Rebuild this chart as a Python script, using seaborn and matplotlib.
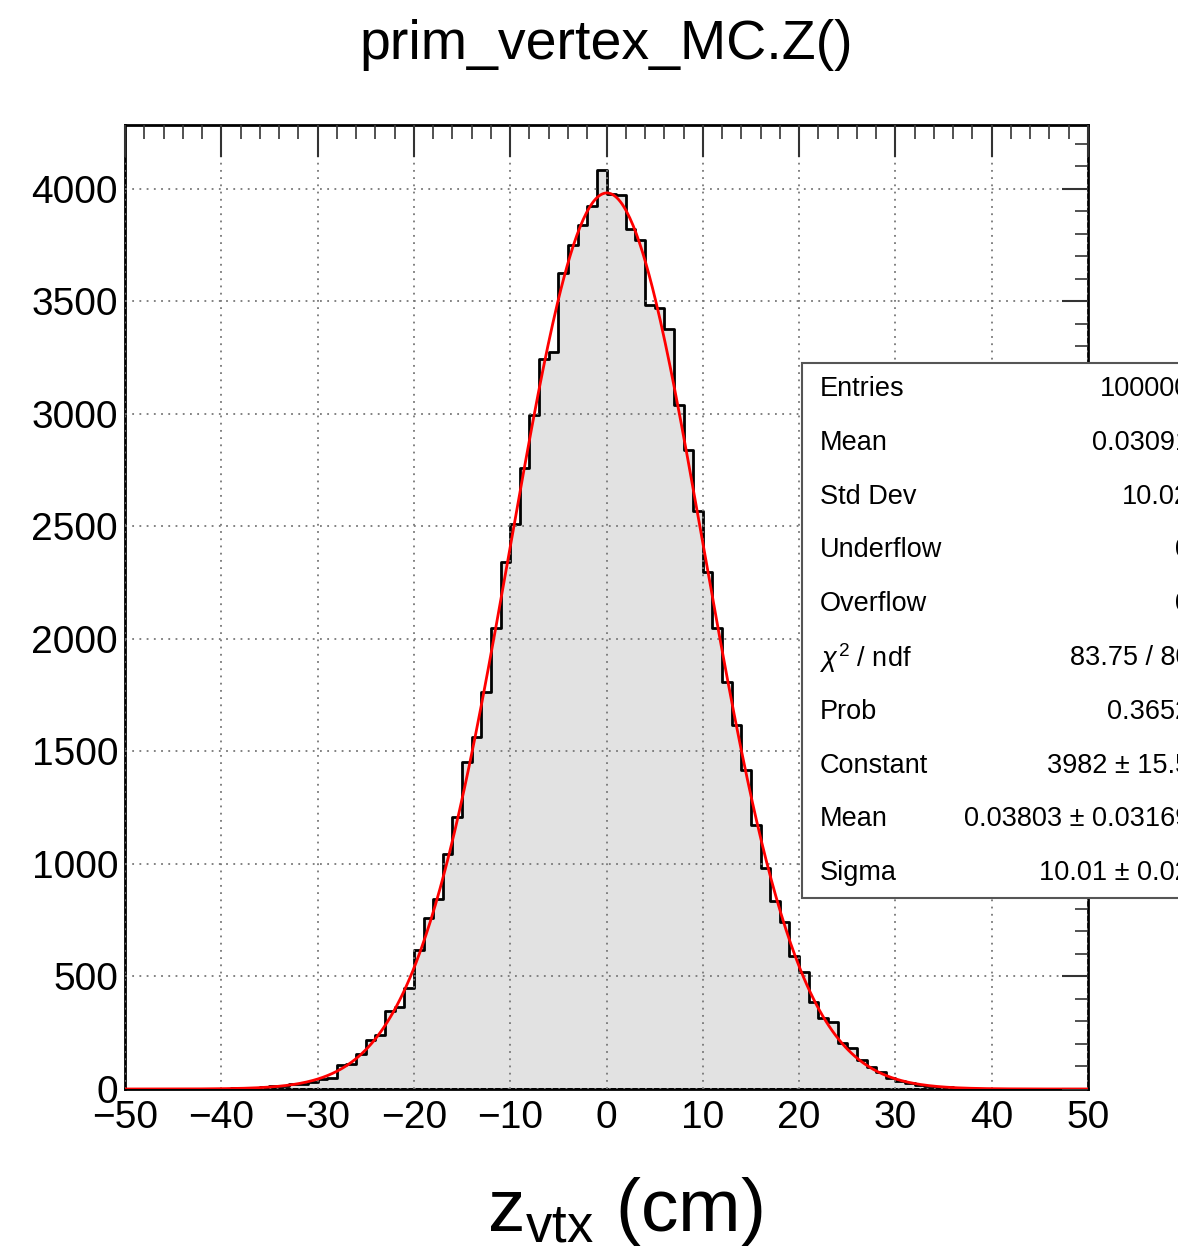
import numpy as np
import pandas as pd
import matplotlib
matplotlib.use("Agg")
import matplotlib.pyplot as plt
from matplotlib.patches import Rectangle
from matplotlib.ticker import MultipleLocator
import seaborn as sns

# bin counts, 1 cm bins from -50 to 50
bin_edges = list(range(-50, 51))
counts = [
    0, 0, 0, 0, 0, 0, 1, 0, 1, 1,            # -50 .. -41
    2, 3, 3, 6, 8, 12, 14, 20, 24, 32,       # -40 .. -31
    45, 50, 105, 110, 154, 216, 240, 346, 364, 447,      # -30 .. -21
    617, 758, 843, 1044, 1209, 1455, 1563, 1766, 2050, 2344,  # -20 .. -11
    2510, 2759, 2996, 3243, 3277, 3625, 3751, 3840, 3922, 4082,  # -10 .. -1
    3978, 3975, 3822, 3774, 3484, 3470, 3376, 3041, 2841, 2570,  # 0 .. 9
    2299, 2050, 1810, 1618, 1418, 1173, 981, 836, 744, 593,      # 10 .. 19
    521, 388, 314, 299, 203, 181, 129, 99, 77, 47,               # 20 .. 29
    35, 26, 19, 14, 10, 7, 5, 4, 2, 2,                           # 30 .. 39
    1, 1, 0, 1, 0, 0, 0, 0, 0, 0,                                # 40 .. 49
]
bin_centers = [e + 0.5 for e in bin_edges[:-1]]

# gaussian fit parameters from the stats box
fit_const = 3982
fit_mean = 0.03803
fit_sigma = 10.01

stat_labels = ["Entries", "Mean", "Std Dev", "Underflow", "Overflow",
               r"$\chi^{2}$ / ndf", "Prob", "Constant", "Mean", "Sigma"]
stat_values = ["100000", "0.03091", "10.02", "0", "0", "83.75 / 80",
               "0.3652", "3982 \u00b1 15.5", "0.03803 \u00b1 0.03169", "10.01 \u00b1 0.02"]

sns.set_style("white")
plt.rcParams["font.family"] = ["Liberation Sans", "DejaVu Sans"]
plt.rcParams["mathtext.fontset"] = "custom"
plt.rcParams["mathtext.rm"] = "Liberation Sans"
plt.rcParams["mathtext.it"] = "Liberation Sans:italic"
plt.rcParams["text.color"] = "black"
plt.rcParams["xtick.labelcolor"] = "black"
plt.rcParams["ytick.labelcolor"] = "black"

W, H = 1178, 1248
fig = plt.figure(figsize=(W / 100, H / 100), dpi=100)
ax = fig.add_axes([125 / W, 1 - 1089 / H, 963 / W, 964 / H])

hist_df = pd.DataFrame({"z": bin_centers, "n": counts})
sns.histplot(data=hist_df, x="z", weights="n", bins=bin_edges, element="step",
             fill=True, facecolor="#e2e2e2", edgecolor="black", linewidth=2,
             alpha=1, ax=ax, zorder=2)

zfit = np.linspace(-50, 50, 600)
yfit = fit_const * np.exp(-0.5 * ((zfit - fit_mean) / fit_sigma) ** 2)
sns.lineplot(x=zfit, y=yfit, color="red", linewidth=2, ax=ax, zorder=3)

ax.set_xlim(-50, 50)
ax.set_ylim(0, 4284)
ax.set_xlabel("")
ax.set_ylabel("")

ax.xaxis.set_major_locator(MultipleLocator(10))
ax.xaxis.set_minor_locator(MultipleLocator(2))
ax.yaxis.set_major_locator(MultipleLocator(500))
ax.yaxis.set_minor_locator(MultipleLocator(100))
ax.tick_params(axis="both", which="both", direction="in", top=True, right=True,
               labelsize=28, color="#333333", labelcolor="black")
ax.tick_params(axis="x", which="major", length=23, width=1.5, pad=8)
ax.tick_params(axis="x", which="minor", length=10, width=1.2)
ax.tick_params(axis="y", which="major", length=19, width=1.5, pad=5)
ax.tick_params(axis="y", which="minor", length=9.5, width=1.2)
ax.grid(True, which="major", color="#777777", linestyle=(0, (1, 3)), linewidth=1.3)
ax.set_axisbelow(False)
for gl in ax.get_xgridlines() + ax.get_ygridlines():
    gl.set_zorder(1.5)
for s in ax.spines.values():
    s.set_linewidth(2)
    s.set_color("black")

fig.text(606 / W, 1 - 45 / H, "prim_vertex_MC.Z()", ha="center", va="center",
         fontsize=40, color="black")
fig.text(625 / W, 1 - 1212 / H, r"$\mathregular{z_{vtx}}$ (cm)", ha="center",
         va="center", fontsize=54, color="black")

# stats box
box = Rectangle((802 / W, 1 - 898 / H), 420 / W, 535 / H, transform=fig.transFigure,
                facecolor="white", edgecolor="#555555", linewidth=1.5, zorder=10)
fig.add_artist(box)
for i, (lab, val) in enumerate(zip(stat_labels, stat_values)):
    yy = 1 - (389 + i * 53.8) / H
    fig.text(820 / W, yy, lab, ha="left", va="center", fontsize=19.5,
             color="black", zorder=11)
    fig.text(1190 / W, yy, val, ha="right", va="center", fontsize=19.5,
             color="black", zorder=11)

fig.savefig("out.png", dpi=100)
